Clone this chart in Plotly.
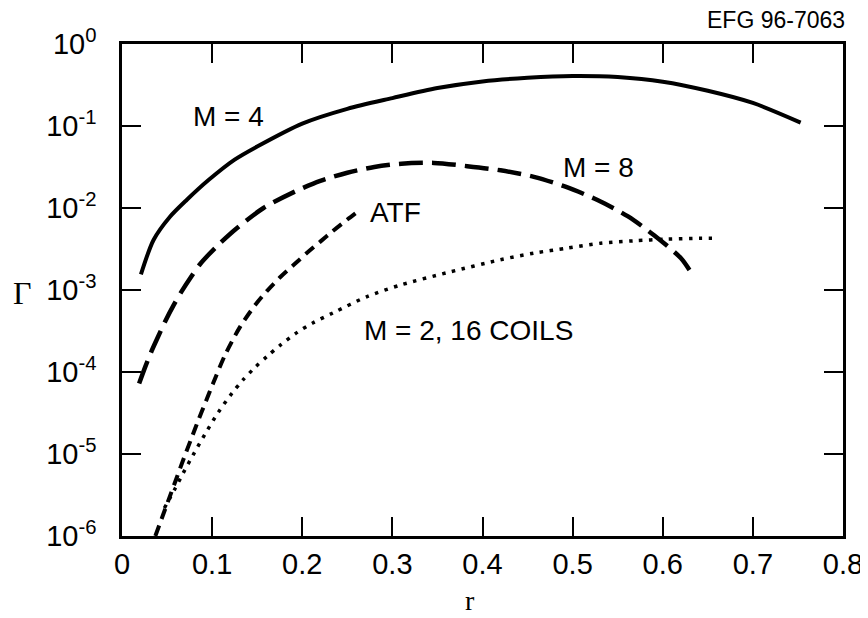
import plotly.graph_objects as go

# ---- data ----
r_m4 = [0.021, 0.035, 0.053, 0.072, 0.096, 0.125, 0.15, 0.2, 0.25, 0.3, 0.35, 0.4, 0.45, 0.5, 0.55, 0.6, 0.65, 0.7, 0.753]
g_m4 = [1.55e-3, 4.07e-3, 7.76e-3, 1.26e-2, 2.19e-2, 3.89e-2, 5.62e-2, 0.107, 0.162, 0.219, 0.290, 0.350, 0.387, 0.407, 0.395, 0.347, 0.269, 0.191, 0.110]

r_m8 = [0.019, 0.026, 0.033, 0.04, 0.048, 0.057, 0.066, 0.076, 0.087, 0.105, 0.127, 0.157, 0.19, 0.22, 0.25, 0.28, 0.31, 0.346, 0.383, 0.42, 0.457, 0.492, 0.527, 0.561, 0.59, 0.62, 0.631]
g_m8 = [7.24e-5, 1.17e-4, 1.82e-4, 2.69e-4, 4.17e-4, 6.46e-4, 9.55e-4, 1.41e-3, 2.09e-3, 3.39e-3, 5.62e-3, 1.0e-2, 1.55e-2, 2.14e-2, 2.69e-2, 3.16e-2, 3.47e-2, 3.55e-2, 3.24e-2, 2.88e-2, 2.40e-2, 1.82e-2, 1.26e-2, 7.94e-3, 4.68e-3, 2.45e-3, 1.66e-3]

r_atf = [0.037, 0.045, 0.053, 0.061, 0.069, 0.077, 0.085, 0.093, 0.101, 0.114, 0.131, 0.148, 0.161, 0.176, 0.19, 0.205, 0.22, 0.234, 0.25, 0.262]
g_atf = [1.0e-6, 1.74e-6, 3.02e-6, 5.25e-6, 9.12e-6, 1.55e-5, 2.63e-5, 4.37e-5, 7.24e-5, 1.58e-4, 3.55e-4, 6.61e-4, 9.77e-4, 1.45e-3, 2.0e-3, 2.82e-3, 3.89e-3, 5.25e-3, 7.24e-3, 9.12e-3]

r_m2 = [0.047, 0.053, 0.059, 0.068, 0.079, 0.092, 0.107, 0.122, 0.134, 0.148, 0.161, 0.176, 0.194, 0.212, 0.234, 0.272, 0.309, 0.364, 0.42, 0.457, 0.494, 0.531, 0.568, 0.605, 0.642, 0.661]
g_m2 = [2.19e-6, 2.88e-6, 3.80e-6, 5.89e-6, 9.77e-6, 1.74e-5, 3.24e-5, 5.50e-5, 7.94e-5, 1.15e-4, 1.55e-4, 2.14e-4, 3.02e-4, 3.98e-4, 5.25e-4, 8.32e-4, 1.15e-3, 1.66e-3, 2.34e-3, 2.82e-3, 3.24e-3, 3.72e-3, 3.98e-3, 4.17e-3, 4.27e-3, 4.27e-3]

x_tickvals = [0, 0.1, 0.2, 0.3, 0.4, 0.5, 0.6, 0.7, 0.8]
x_ticktext = ["0", "0.1", "0.2", "0.3", "0.4", "0.5", "0.6", "0.7", "0.8"]
y_tickvals = [1e-6, 1e-5, 1e-4, 1e-3, 1e-2, 1e-1, 1]
y_ticktext = ["10<sup>-6</sup>", "10<sup>-5</sup>", "10<sup>-4</sup>", "10<sup>-3</sup>",
              "10<sup>-2</sup>", "10<sup>-1</sup>", "10<sup>0</sup>"]

SANS = "Liberation Sans, Arial, Helvetica, sans-serif"
SERIF = "Liberation Serif, Times New Roman, serif"

# the page body has an 8px margin, so the figure starts at (8, 8) in the window
OFF = 8
W, H = 860, 610
L, T = 122 - OFF, 44 - OFF
R = W - (843 - OFF)
B = H - (536 - OFF)
pw, ph = W - L - R, H - T - B


def px(xw):
    return (xw - OFF - L) / pw


def py(yw):
    return (H - B - (yw - OFF)) / ph


fig = go.Figure()
fig.add_trace(go.Scatter(x=r_m4, y=g_m4, mode="lines", name="M = 4",
                         line=dict(color="black", width=4, shape="spline", smoothing=0.8)))
fig.add_trace(go.Scatter(x=r_m8, y=g_m8, mode="lines", name="M = 8",
                         line=dict(color="black", width=4.5, dash="24px,9px", shape="spline", smoothing=0.8)))
fig.add_trace(go.Scatter(x=r_atf, y=g_atf, mode="lines", name="ATF",
                         line=dict(color="black", width=4, dash="11px,7px", shape="spline", smoothing=0.8)))
fig.add_trace(go.Scatter(x=r_m2, y=g_m2, mode="lines", name="M = 2, 16 COILS",
                         line=dict(color="black", width=3.5, dash="3.5px,6.5px", shape="spline", smoothing=0.8)))

ann_font = dict(family=SANS, size=28, color="black")
annotations = [
    dict(x=0.118, y=-0.89, xref="x", yref="y", text="M = 4", showarrow=False, font=ann_font),
    dict(x=0.529, y=-1.50, xref="x", yref="y", text="M = 8", showarrow=False, font=ann_font),
    dict(x=0.304, y=-2.06, xref="x", yref="y", text="ATF", showarrow=False, font=ann_font),
    dict(x=0.385, y=-3.49, xref="x", yref="y", text="M = 2, 16 COILS", showarrow=False, font=ann_font),
    dict(x=px(847), y=py(20), xref="paper", yref="paper", text="EFG 96-7063",
         showarrow=False, font=dict(family=SANS, size=23, color="black"),
         xanchor="right", yanchor="middle"),
    dict(x=px(22), y=py(293), xref="paper", yref="paper", text="Γ",
         showarrow=False, font=dict(family=SERIF, size=32, color="black"),
         xanchor="center", yanchor="middle"),
    dict(x=px(470), y=py(600), xref="paper", yref="paper", text="r",
         showarrow=False, font=dict(family=SERIF, size=28, color="black"),
         xanchor="center", yanchor="middle"),
]

fig.update_layout(
    width=W, height=H,
    margin=dict(l=L, r=R, t=T, b=B, autoexpand=False),
    paper_bgcolor="white", plot_bgcolor="white",
    showlegend=False,
    annotations=annotations,
    font=dict(family=SANS, color="black"),
)
fig.update_xaxes(
    range=[0, 0.8], tickvals=x_tickvals, ticktext=x_ticktext,
    showgrid=False, zeroline=False, automargin=False,
    showline=True, linecolor="black", linewidth=2.5, mirror="allticks",
    ticks="inside", ticklen=19, tickwidth=2, tickcolor="black",
    ticklabelstandoff=0,
    tickfont=dict(family=SANS, size=29, color="black"),
)
fig.update_yaxes(
    type="log", range=[-6, 0], tickvals=y_tickvals, ticktext=y_ticktext,
    showgrid=False, zeroline=False, automargin=False,
    showline=True, linecolor="black", linewidth=2.5, mirror="allticks",
    ticks="inside", ticklen=19, tickwidth=2, tickcolor="black",
    ticklabelstandoff=17,
    tickfont=dict(family=SANS, size=29, color="black"),
)
fig.write_html("out.html")
